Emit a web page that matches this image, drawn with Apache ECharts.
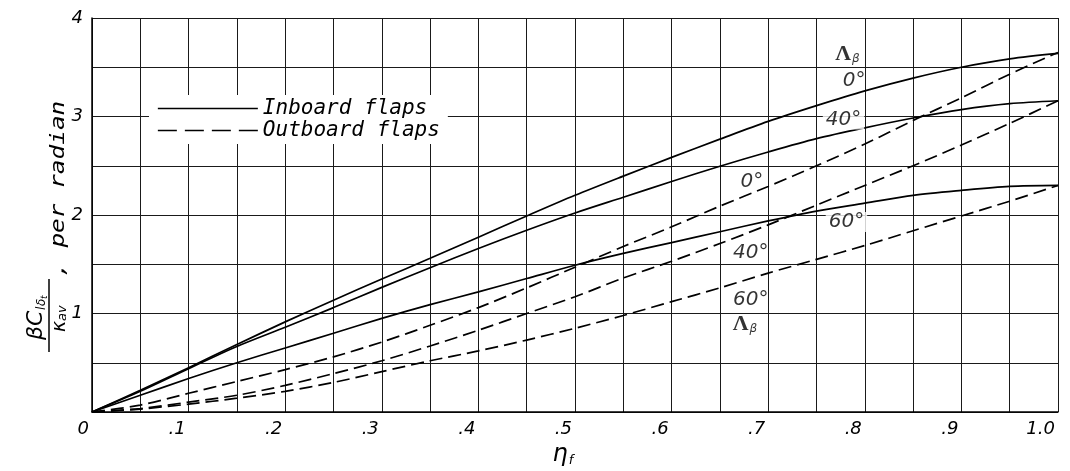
<!DOCTYPE html>
<html>
<head>
<meta charset="utf-8">
<script src="https://cdn.jsdelivr.net/npm/echarts@6/dist/echarts.min.js"></script>
<style>html,body{margin:0;padding:0;background:#fff;}#c{width:1070px;height:471px;}</style>
</head>
<body>
<div id="c"></div>
<script>
const eta = [0, 0.05, 0.1, 0.15, 0.2, 0.25, 0.3, 0.35, 0.4, 0.45, 0.5, 0.55, 0.6, 0.65, 0.7, 0.75, 0.8, 0.85, 0.9, 0.95, 1.0];
const inboard0  = [0, 0.22, 0.45, 0.685, 0.915, 1.135, 1.35, 1.56, 1.775, 1.99, 2.20, 2.395, 2.585, 2.77, 2.95, 3.11, 3.26, 3.39, 3.50, 3.585, 3.64];
const inboard40 = [0, 0.21, 0.44, 0.665, 0.86, 1.06, 1.265, 1.465, 1.66, 1.845, 2.02, 2.18, 2.34, 2.495, 2.64, 2.775, 2.885, 2.985, 3.07, 3.13, 3.16];
const inboard60 = [0, 0.17, 0.34, 0.50, 0.65, 0.80, 0.95, 1.09, 1.22, 1.355, 1.49, 1.61, 1.72, 1.83, 1.94, 2.04, 2.12, 2.20, 2.25, 2.29, 2.30];
const outboard0  = [0, 0.07, 0.19, 0.31, 0.43, 0.56, 0.71, 0.88, 1.06, 1.26, 1.47, 1.68, 1.88, 2.09, 2.29, 2.50, 2.72, 2.96, 3.19, 3.43, 3.65];
const outboard40 = [0, 0.035, 0.10, 0.17, 0.27, 0.39, 0.52, 0.67, 0.83, 1.00, 1.17, 1.36, 1.53, 1.71, 1.90, 2.10, 2.30, 2.50, 2.71, 2.93, 3.16];
const outboard60 = [0, 0.03, 0.08, 0.14, 0.21, 0.30, 0.41, 0.52, 0.62, 0.73, 0.85, 0.98, 1.12, 1.26, 1.41, 1.55, 1.69, 1.84, 1.99, 2.14, 2.30];

const legendNames = ['Inboard flaps', 'Outboard flaps'];
const annotText = ['{L|Λ}{b|β}', '0°', '40°', '0°', '60°', '40°', '60°', '{L|Λ}{b|β}'];
const annotX = [0.782, 0.789, 0.778, 0.683, 0.781, 0.682, 0.682, 0.676];
const annotY = [3.635, 3.36, 2.97, 2.335, 1.928, 1.613, 1.135, 0.89];
const whiteBacked = new Set([2, 4]);

const chart = echarts.init(document.getElementById('c'), null, {renderer: 'canvas'});

function pts(ys) { return eta.map((x, i) => [x, ys[i]]); }
const solid = {color: '#000', width: 1.7, type: 'solid'};
const dashed = {color: '#000', width: 1.7, type: [13, 6]};
function lineSeries(name, ys, ls) {
  return {type: 'line', name: name, data: pts(ys), smooth: 0.3, symbol: 'none', showSymbol: false,
    itemStyle: {color: '#000'}, lineStyle: ls, silent: true, z: 3};
}

const labelFont = {fontFamily: 'DejaVu Sans', fontStyle: 'italic', fontSize: 18, color: '#000'};

const option = {
  animation: false,
  backgroundColor: '#fff',
  grid: {left: 92, right: 12, top: 18, bottom: 59, outerBoundsMode: 'none'},
  xAxis: {
    type: 'value', min: 0, max: 1, interval: 0.05,
    axisLine: {show: true, onZero: false, lineStyle: {color: '#000', width: 1.5}},
    axisTick: {show: false},
    splitLine: {show: true, lineStyle: {color: '#1a1a1a', width: 1}},
    axisLabel: Object.assign({}, labelFont, {
      margin: 8, align: 'right', padding: [0, 3, 0, 0],
      showMinLabel: true, showMaxLabel: true,
      formatter: function (v) {
        const r = Math.round(v * 100);
        if (r % 10 !== 0) return '';
        if (r === 0) return '0';
        if (r === 100) return '1.0';
        return '.' + (r / 10);
      }
    }),
    name: '{e|η}{f|f}', nameLocation: 'middle', nameGap: 26,
    nameTextStyle: {padding: [0, 24, 0, 0], rich: {
      e: {fontFamily: 'DejaVu Sans', fontStyle: 'italic', fontSize: 24, color: '#000'},
      f: {fontFamily: 'DejaVu Sans', fontStyle: 'italic', fontSize: 13, color: '#000', verticalAlign: 'bottom', padding: [12, 0, 0, 1]}
    }}
  },
  yAxis: {
    type: 'value', min: 0, max: 4, interval: 0.5,
    axisLine: {show: true, onZero: false, lineStyle: {color: '#000', width: 1.5}},
    axisTick: {show: false},
    splitLine: {show: true, lineStyle: {color: '#1a1a1a', width: 1}},
    axisLabel: Object.assign({}, labelFont, {
      margin: 9, showMinLabel: false, showMaxLabel: true,
      formatter: function (v) { return Math.abs(v - Math.round(v)) < 1e-9 ? String(Math.round(v)) : ''; }
    })
  },
  legend: {
    data: [
      {name: legendNames[0], lineStyle: {type: 'solid'}},
      {name: legendNames[1], lineStyle: {type: [19, 8]}}
    ],
    orient: 'vertical', left: 149, top: 95, itemWidth: 100, itemHeight: 12, itemGap: 1,
    itemStyle: {opacity: 0},
    lineStyle: {color: '#000', width: 1.7},
    backgroundColor: '#fff', padding: [3, 8, 3, 8], selectedMode: false,
    textStyle: {fontFamily: 'DejaVu Sans Mono', fontStyle: 'italic', fontSize: 21, color: '#000'}
  },
  series: [
    lineSeries(legendNames[0], inboard0, solid),
    lineSeries(legendNames[0], inboard40, solid),
    lineSeries(legendNames[0], inboard60, solid),
    lineSeries(legendNames[1], outboard0, dashed),
    lineSeries(legendNames[1], outboard40, dashed),
    lineSeries(legendNames[1], outboard60, dashed),
    {
      type: 'scatter', name: 'annotations', symbolSize: 0, silent: true, z: 5,
      data: annotText.map((t, i) => ({
        value: [annotX[i], annotY[i]],
        label: whiteBacked.has(i) ? {backgroundColor: '#fff', padding: [0, 3]} : {}
      })),
      label: {
        show: true, position: 'inside',
        formatter: function (p) { return annotText[p.dataIndex]; },
        fontFamily: 'DejaVu Sans', fontStyle: 'italic', fontSize: 20, color: '#000',
        rich: {
          L: {fontFamily: 'Liberation Serif', fontWeight: 'bold', fontStyle: 'normal', fontSize: 22, color: '#000'},
          b: {fontFamily: 'DejaVu Sans', fontStyle: 'italic', fontSize: 12, color: '#000', verticalAlign: 'bottom', padding: [10, 0, 0, 1]}
        }
      }
    }
  ],
  graphic: [{
    type: 'group', x: 49, y: 352, rotation: Math.PI / 2, silent: true,
    children: [
      {type: 'text', x: 12, y: -13, style: {text: 'βC', font: 'italic 22px "DejaVu Sans"', fill: '#000', textAlign: 'left', textVerticalAlign: 'middle', verticalAlign: 'middle'}},
      {type: 'text', x: 42, y: -7, style: {text: 'l', font: 'italic 12px "DejaVu Sans"', fill: '#000', textAlign: 'left', textVerticalAlign: 'middle', verticalAlign: 'middle'}},
      {type: 'text', x: 46, y: -7, style: {text: 'δ', font: 'italic 12px "DejaVu Sans"', fill: '#000', textAlign: 'left', textVerticalAlign: 'middle', verticalAlign: 'middle'}},
      {type: 'text', x: 53, y: -4, style: {text: 't', font: 'italic 9px "DejaVu Sans"', fill: '#000', textAlign: 'left', textVerticalAlign: 'middle', verticalAlign: 'middle'}},
      {type: 'line', shape: {x1: 0, y1: 0, x2: 73, y2: 0}, style: {stroke: '#000', lineWidth: 1.5}},
      {type: 'text', x: 20, y: 11, style: {text: 'κ', font: 'italic 19px "DejaVu Sans"', fill: '#000', textAlign: 'left', textVerticalAlign: 'middle', verticalAlign: 'middle'}},
      {type: 'text', x: 31, y: 14, style: {text: 'av', font: 'italic 13px "DejaVu Sans"', fill: '#000', textAlign: 'left', textVerticalAlign: 'middle', verticalAlign: 'middle'}},
      {type: 'text', x: 75, y: 10, scaleX: 1.22, style: {text: ', per radian', font: 'italic 20px "DejaVu Sans Mono"', fill: '#000', textAlign: 'left', textVerticalAlign: 'middle', verticalAlign: 'middle'}}
    ]
  }]
};
chart.setOption(option);
</script>
</body>
</html>
